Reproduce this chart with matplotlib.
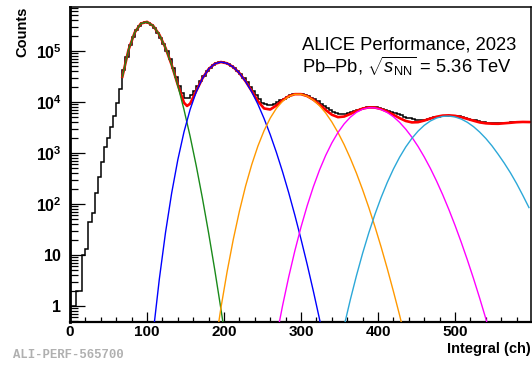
import numpy as np
import matplotlib
matplotlib.use("Agg")
import matplotlib.pyplot as plt
from matplotlib.ticker import FixedLocator, FixedFormatter, MultipleLocator, LogLocator, NullFormatter

plt.rcParams['font.family'] = 'Liberation Sans'
plt.rcParams['mathtext.fontset'] = 'custom'
plt.rcParams['mathtext.rm'] = 'Liberation Sans'
plt.rcParams['mathtext.it'] = 'Liberation Sans:italic'
plt.rcParams['mathtext.bf'] = 'Liberation Sans:bold'

# histogram, 4 channels per bin, 0..600
bin_width = 4
counts = [1, 1, 2, 2, 10, 13, 44, 66, 165, 343, 676, 1330, 2000, 3270, 5300, 9400, 17800,
	42700, 77600, 128800, 190500, 257000, 309000, 354800, 363100, 354800, 323600,
	281800, 229100, 182000, 134900, 100000, 69200, 46800, 30900, 20900, 14800,
	12000, 11750, 13490, 16600, 20900, 26300, 32400, 39800, 46800, 52500,
	57500, 60300, 60300, 58900, 54950, 50100, 45700, 39800, 34700, 29500,
	24550, 19950, 16600, 13490, 11220, 9770, 9120, 8910, 8910, 9330,
	10000, 10720, 11480, 12590, 13490, 14130, 14450, 14450, 14130, 13490,
	12880, 12020, 11220, 10470, 9330, 8510, 7590, 6920, 6460, 6170,
	5890, 5750, 5890, 6030, 6310, 6610, 7080, 7410, 7760, 7940,
	7940, 7940, 7940, 7760, 7410, 7080, 6760, 6460, 6030, 5750,
	5500, 5130, 4900, 4790, 4570, 4470, 4470, 4470, 4470, 4570,
	4790, 5010, 5130, 5250, 5370, 5370, 5370, 5370, 5370, 5250,
	5130, 4900, 4680, 4470, 4370, 4170, 4070, 3980, 3890, 3800,
	3800, 3800, 3800, 3800, 3890, 3890, 3980, 3980, 3980, 4070,
	4070, 4070, 4070]
edges = np.arange(0, bin_width * len(counts) + 1, bin_width)

# total fit (log10 of counts)
fit_x = sorted(list(range(68, 597, 8)) + [152])
fit_log = [4.496, 5.024, 5.362, 5.538, 5.572, 5.494, 5.321, 5.062, 4.729, 4.338,
	3.987, 3.923, 3.967, 4.217, 4.466, 4.645, 4.75, 4.784, 4.759, 4.685,
	4.567, 4.407, 4.216, 4.018, 3.874, 3.853, 3.932, 4.034, 4.114, 4.154,
	4.154, 4.116, 4.046, 3.951, 3.844, 3.751, 3.703, 3.715, 3.765, 3.825,
	3.872, 3.894, 3.891, 3.862, 3.813, 3.75, 3.684, 3.628, 3.60, 3.605,
	3.636, 3.676, 3.711, 3.734, 3.739, 3.729, 3.703, 3.669, 3.633, 3.60,
	3.582, 3.575, 3.573, 3.583, 3.593, 3.604, 3.609, 3.607]

# single peak components, sampled every 8 channels (log10 of counts)
green_x0 = 68
green_log = [4.496, 5.024, 5.362, 5.538, 5.572, 5.494, 5.321, 5.062, 4.728, 4.323,
	3.853, 3.326, 2.744, 2.11, 1.431, 0.707, -0.06, -0.86]
blue_x0 = 108
blue_log = [-0.53, 0.527, 1.437, 2.212, 2.866, 3.412, 3.854, 4.202, 4.464, 4.645,
	4.75, 4.784, 4.759, 4.685, 4.566, 4.403, 4.2, 3.957, 3.676, 3.361,
	3.013, 2.633, 2.222, 1.78, 1.31, 0.815, 0.292, -0.256, -0.83]
orange_x0 = 188
orange_log = [-0.833, -0.037, 0.671, 1.302, 1.86, 2.351, 2.773, 3.135, 3.438, 3.684,
	3.876, 4.016, 4.108, 4.152, 4.152, 4.113, 4.038, 3.928, 3.785, 3.609,
	3.401, 3.164, 2.897, 2.603, 2.279, 1.931, 1.556, 1.157, 0.733, 0.286,
	-0.18, -0.68]
magenta_x0 = 268
magenta_log = [-0.615, 0.003, 0.569, 1.083, 1.549, 1.966, 2.337, 2.666, 2.952, 3.197,
	3.403, 3.571, 3.702, 3.798, 3.86, 3.888, 3.885, 3.853, 3.795, 3.711,
	3.602, 3.467, 3.31, 3.128, 2.923, 2.698, 2.45, 2.181, 1.891, 1.581,
	1.252, 0.904, 0.538, 0.153, -0.25, -0.668]
cyan_x0 = 356
cyan_log = [-0.392, 0.122, 0.596, 1.034, 1.434, 1.798, 2.127, 2.423, 2.686, 2.917,
	3.118, 3.288, 3.429, 3.543, 3.628, 3.686, 3.718, 3.724, 3.707, 3.666,
	3.602, 3.517, 3.41, 3.285, 3.14, 2.975, 2.80, 2.61, 2.40, 2.17,
	1.93]
sample_step = 8

components = [
	(green_x0, green_log, '#1a8a1a'),
	(blue_x0, blue_log, '#0000ff'),
	(orange_x0, orange_log, '#ff9900'),
	(magenta_x0, magenta_log, '#ff00ff'),
	(cyan_x0, cyan_log, '#2ca8d8'),
]

ytick_vals = [1, 10, 1e2, 1e3, 1e4, 1e5]
ytick_labels = [r'$\mathbf{1}$', r'$\mathbf{10}$', r'$\mathbf{10^{2}}$', r'$\mathbf{10^{3}}$',
	r'$\mathbf{10^{4}}$', r'$\mathbf{10^{5}}$']

W, H = 532, 365
fig = plt.figure(figsize=(W / 100, H / 100), dpi=100)
ax = fig.add_axes([70 / W, 1 - 322 / H, 460.5 / W, 315 / H])

ax.stairs(counts, edges, color='black', lw=1.1, baseline=None, zorder=2)
ax.plot(fit_x, 10 ** np.array(fit_log), color='#ff0000', lw=1.9, zorder=3)
for x0, logs, col in components:
	xs = np.arange(x0, x0 + sample_step * len(logs), sample_step)
	ax.plot(xs, 10 ** np.array(logs), color=col, lw=1.0, zorder=4)

ax.set_yscale('log')
ax.set_xlim(0, 598)
ax.set_ylim(0.485, 7.3e5)

ax.yaxis.set_major_locator(FixedLocator(ytick_vals))
ax.yaxis.set_major_formatter(FixedFormatter(ytick_labels))
ax.yaxis.set_minor_locator(LogLocator(base=10, subs=range(2, 10), numticks=20))
ax.yaxis.set_minor_formatter(NullFormatter())
ax.xaxis.set_major_locator(MultipleLocator(100))
ax.xaxis.set_minor_locator(MultipleLocator(20))

ax.tick_params(which='both', direction='in', top=False, right=False, width=0.9)
ax.tick_params(axis='y', which='major', length=11, pad=6, labelsize=11.5)
ax.tick_params(axis='y', which='minor', length=5.5)
ax.tick_params(axis='x', which='major', length=7.5, pad=2.5, labelsize=11)
ax.tick_params(axis='x', which='minor', length=3.8)
for lab in ax.get_xticklabels():
	lab.set_fontweight('bold')

ax.spines['left'].set_linewidth(2.0)
ax.spines['bottom'].set_linewidth(1.6)
ax.spines['top'].set_linewidth(1.1)
ax.spines['right'].set_linewidth(1.1)

fig.text(22.5 / W, 1 - 7 / H, 'Counts', rotation=90, ha='center', va='top',
	fontsize=10.5, fontweight='bold')
fig.text(530.5 / W, 1 - 353 / H, 'Integral (ch)', ha='right', va='baseline',
	fontsize=10.5, fontweight='bold')
fig.text(302 / W, 1 - 49.5 / H, 'ALICE Performance, 2023', ha='left', va='baseline', fontsize=13.2)
fig.text(302 / W, 1 - 72.5 / H, r'Pb–Pb, $\sqrt{s_{\mathrm{NN}}}$ = 5.36 TeV', ha='left',
	va='baseline', fontsize=13.2)
fig.text(13 / W, 1 - 358 / H, 'ALI-PERF-565700', ha='left', va='baseline',
	family='Liberation Mono', fontsize=8.8, color='#b0b0b0', fontweight='bold')

fig.savefig('out.png', dpi=100)
